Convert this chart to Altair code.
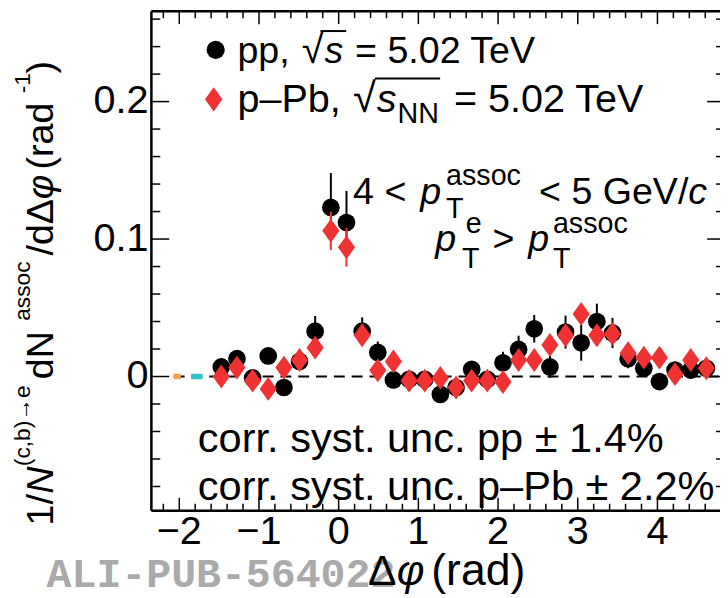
import altair as alt
import pandas as pd

# ---------------- data ----------------
dphi = [-1.473, -1.276, -1.080, -0.884, -0.687, -0.491, -0.295, -0.098,
        0.098, 0.295, 0.491, 0.687, 0.884, 1.080, 1.276, 1.473,
        1.669, 1.865, 2.062, 2.258, 2.454, 2.651, 2.847, 3.043,
        3.240, 3.436, 3.632, 3.829, 4.025, 4.221, 4.418, 4.614]

pp_val = [0.007, 0.013, -0.001, 0.015, -0.008, 0.011, 0.033, 0.123,
          0.112, 0.033, 0.0175, -0.0025, -0.002, -0.002, -0.013, -0.008,
          0.0053, -0.002, 0.010, 0.0197, 0.0347, 0.007, 0.0323, 0.0245,
          0.040, 0.0317, 0.013, 0.006, -0.0037, 0.0047, 0.0047, 0.006]
pp_err = [0.006, 0.006, 0.006, 0.006, 0.006, 0.006, 0.011, 0.025,
          0.023, 0.010, 0.008, 0.006, 0.006, 0.006, 0.006, 0.006,
          0.006, 0.006, 0.008, 0.010, 0.010, 0.008, 0.012, 0.013,
          0.013, 0.011, 0.007, 0.006, 0.006, 0.006, 0.006, 0.006]

ppb_val = [0.000, 0.0065, -0.003, -0.009, 0.0065, 0.012, 0.021, 0.106,
           0.094, 0.030, 0.0045, 0.011, -0.003, -0.003, -0.001, -0.008,
           -0.003, -0.003, -0.004, 0.012, 0.012, 0.023, 0.030, 0.0455,
           0.030, 0.031, 0.017, 0.0137, 0.0137, 0.0017, 0.012, 0.006]
ppb_err = [0.005, 0.005, 0.005, 0.005, 0.005, 0.005, 0.005, 0.014,
           0.014, 0.006, 0.005, 0.005, 0.005, 0.005, 0.005, 0.005,
           0.005, 0.005, 0.005, 0.005, 0.005, 0.005, 0.006, 0.007,
           0.006, 0.005, 0.005, 0.005, 0.005, 0.005, 0.005, 0.005]

x_major = [-2, -1, 0, 1, 2, 3, 4]
x_labels = ["\u22122", "\u22121", "0", "1", "2", "3", "4"]
x_minor = [-2.2, -1.8, -1.6, -1.4, -1.2, -0.8, -0.6, -0.4, -0.2, 0.2, 0.4, 0.6,
           0.8, 1.2, 1.4, 1.6, 1.8, 2.2, 2.4, 2.6, 2.8, 3.2, 3.4, 3.6, 3.8,
           4.2, 4.4, 4.6]
y_major = [0, 0.1, 0.2]
y_labels = ["0", "0.1", "0.2"]
y_minor = [-0.08, -0.06, -0.04, -0.02, 0.02, 0.04, 0.06, 0.08, 0.12, 0.14,
           0.16, 0.18, 0.22, 0.24, 0.26]

syst_pp_x = [-2.07, -1.98]
syst_ppb_x = [-1.85, -1.71]
syst_half = 0.002
zero_line_start = -2.07

X_DOMAIN = [-2.35, 4.785]
Y_DOMAIN = [-0.0976, 0.2657]
W, H = 575, 505
FONT = "Liberation Sans"
RED = "#f03232"

xs = alt.Scale(domain=X_DOMAIN, nice=False, zero=False)
ys = alt.Scale(domain=Y_DOMAIN, nice=False, zero=False)

pp = pd.DataFrame({"x": dphi, "y": pp_val,
                   "lo": [v - e for v, e in zip(pp_val, pp_err)],
                   "hi": [v + e for v, e in zip(pp_val, pp_err)]})
ppb = pd.DataFrame({"x": dphi, "y": ppb_val,
                    "lo": [v - e for v, e in zip(ppb_val, ppb_err)],
                    "hi": [v + e for v, e in zip(ppb_val, ppb_err)]})

DIAMOND = "M0,-1L0.72,0L0,1L-0.72,0Z"
one = pd.DataFrame({"a": [0]})

NOAX = dict(labels=False, ticks=False, domain=False, grid=False)

layers = []

# invisible axes (the visible ticks and labels are drawn below)
layers.append(alt.Chart(pp).mark_point(opacity=0).encode(
    x=alt.X("x:Q", scale=xs, title=None, axis=alt.Axis(**NOAX)),
    y=alt.Y("y:Q", scale=ys, title=None, axis=alt.Axis(**NOAX))))

# tick labels drawn as text through the scales
layers.append(alt.Chart(pd.DataFrame({"t": x_major, "lab": x_labels})).mark_text(
    font=FONT, fontSize=40, align="center", baseline="alphabetic", color="black").encode(
    x=alt.X("t:Q", scale=xs, axis=None), y=alt.value(H + 34), text="lab:N"))
layers.append(alt.Chart(pd.DataFrame({"t": y_major, "lab": y_labels})).mark_text(
    font=FONT, fontSize=40, align="right", baseline="middle", color="black").encode(
    y=alt.Y("t:Q", scale=ys, axis=None), x=alt.value(-3), text="lab:N"))

# ticks (inward, ROOT style)
def xticks(vals, length):
    d = pd.DataFrame({"t": vals})
    bot = alt.Chart(d).mark_rule(color="black", strokeWidth=1.5).encode(
        x=alt.X("t:Q", scale=xs, axis=None), y=alt.value(H), y2=alt.value(H - length))
    top = alt.Chart(d).mark_rule(color="black", strokeWidth=1.5).encode(
        x=alt.X("t:Q", scale=xs, axis=None), y=alt.value(0), y2=alt.value(length))
    return [bot, top]

def yticks(vals, llen, rlen):
    d = pd.DataFrame({"t": vals})
    left = alt.Chart(d).mark_rule(color="black", strokeWidth=1.5).encode(
        y=alt.Y("t:Q", scale=ys, axis=None), x=alt.value(0), x2=alt.value(llen))
    right = alt.Chart(d).mark_rule(color="black", strokeWidth=1.5).encode(
        y=alt.Y("t:Q", scale=ys, axis=None), x=alt.value(W - rlen), x2=alt.value(W))
    return [left, right]

layers += xticks(x_major, 13) + xticks(x_minor, 7)
layers += yticks(y_major, 18, 13) + yticks(y_minor, 9, 4)

# frame (left, top, bottom; the right side lies outside the picture)
for enc in [dict(x=alt.value(0), y=alt.value(0), y2=alt.value(H)),
            dict(x=alt.value(0), x2=alt.value(W), y=alt.value(0)),
            dict(x=alt.value(0), x2=alt.value(W), y=alt.value(H))]:
    layers.append(alt.Chart(one).mark_rule(color="black", strokeWidth=2.5).encode(**enc))

# zero dashed line
layers.append(alt.Chart(one).mark_rule(color="black", strokeWidth=2, strokeDash=[11, 7]).encode(
    x=alt.datum(zero_line_start, scale=xs), x2=alt.value(W), y=alt.datum(0, scale=ys)))

# correlated systematic boxes
for xx, col in [(syst_pp_x, "#f5a04a"), (syst_ppb_x, "#2ec4c8")]:
    d = pd.DataFrame({"x0": [xx[0]], "x1": [xx[1]], "y0": [-syst_half], "y1": [syst_half]})
    layers.append(alt.Chart(d).mark_rect(color=col).encode(
        x=alt.X("x0:Q", scale=xs, axis=None), x2="x1:Q",
        y=alt.Y("y0:Q", scale=ys, axis=None), y2="y1:Q"))

# pp
layers.append(alt.Chart(pp).mark_rule(color="black", strokeWidth=2).encode(
    x=alt.X("x:Q", scale=xs, axis=None), y=alt.Y("lo:Q", scale=ys, axis=None), y2="hi:Q"))
layers.append(alt.Chart(pp).mark_point(shape="circle", filled=True, size=320, color="black", opacity=1).encode(
    x=alt.X("x:Q", scale=xs, axis=None), y=alt.Y("y:Q", scale=ys, axis=None)))
# p-Pb
layers.append(alt.Chart(ppb).mark_rule(color=RED, strokeWidth=2).encode(
    x=alt.X("x:Q", scale=xs, axis=None), y=alt.Y("lo:Q", scale=ys, axis=None), y2="hi:Q"))
layers.append(alt.Chart(ppb).mark_point(shape=DIAMOND, filled=True, size=580, color=RED, opacity=1).encode(
    x=alt.X("x:Q", scale=xs, axis=None), y=alt.Y("y:Q", scale=ys, axis=None)))

# legend markers
layers.append(alt.Chart(one).mark_point(shape="circle", filled=True, size=340, color="black", opacity=1).encode(
    x=alt.value(65), y=alt.value(39)))
layers.append(alt.Chart(one).mark_point(shape=DIAMOND, filled=True, size=600, color=RED, opacity=1).encode(
    x=alt.value(63), y=alt.value(89)))

def txt(s, x, y, size=38, italic=False, color="black", angle=0, font=FONT,
        weight="normal", align="left"):
    kw = dict(text=s, align=align, baseline="alphabetic", fontSize=size, font=font,
              color=color, fontWeight=weight)
    if italic:
        kw["fontStyle"] = "italic"
    if angle:
        kw["angle"] = angle
    return alt.Chart(one).mark_text(**kw).encode(x=alt.value(x), y=alt.value(y))

def hline(x0, x1, y, w=2):
    return alt.Chart(one).mark_rule(color="black", strokeWidth=w).encode(
        x=alt.value(x0), x2=alt.value(x1), y=alt.value(y))

S = 38
SS = 29
# legend text
layers += [
    txt("pp,", 87, 52, S), txt("\u221a", 152, 52, 40), txt("s", 175, 52, S, italic=True),
    hline(171, 197, 20), txt("= 5.02 TeV", 206, 52, S),
    txt("p\u2013Pb,", 87, 102, 40), txt("\u221a", 204, 102, 42),
    txt("s", 228, 102, 40, italic=True), hline(226, 292, 68),
    txt("NN", 249, 113, SS), txt("= 5.02 TeV", 306, 102, 40),
]
# kinematic text
layers += [
    txt("4 <", 204, 195, S), txt("p", 272, 195, S, italic=True),
    txt("assoc", 298, 176, SS), txt("T", 298, 209, SS),
    txt("< 5 GeV/", 392, 195, S), txt("c", 543, 195, S, italic=True),
    txt("p", 287, 242, S, italic=True), txt("e", 318, 224, SS), txt("T", 314, 260, SS),
    txt(">", 345, 242, S), txt("p", 381, 242, S, italic=True),
    txt("assoc", 406, 224, SS), txt("T", 406, 260, SS),
]
# correlated syst. text
layers += [
    txt("corr. syst. unc. pp \u00b1 1.4%", 47, 446, 42),
    txt("corr. syst. unc. p\u2013Pb \u00b1 2.2%", 47, 494, 42),
]
# axis titles and watermark
layers += [
    txt("ALI-PUB-564022", -106, 582, 42, color="#aaaaaa", font="Liberation Mono", weight="bold"),
    txt("\u0394", 219, 580, 43), txt("\u03c6", 248, 580, 43, italic=True), txt("(rad)", 283, 580, 45),
]
# y title (rotated)
YT = -99
YS = -123
layers += [
    txt("1/", YT, 520, 38, angle=270), txt("N", YT, 488, 38, italic=True, angle=270),
    txt("(c,b)\u2192e", YS, 460, 23, angle=270),
    txt("dN", YT, 372, 38, angle=270),
    txt("assoc", YS, 313, 23, angle=270),
    txt("/d\u0394", YT, 247, 38, angle=270), txt("\u03c6", YT, 190, 38, italic=True, angle=270),
    txt("(rad", YT, 160, 38, angle=270), txt("-1", YS, 83, 23, angle=270),
    txt(")", YT, 63, 38, angle=270),
]

chart = alt.layer(*layers).properties(
    width=W, height=H,
    autosize=alt.AutoSizeParams(type="none"),
    padding={"left": 145, "top": 0, "right": 0, "bottom": 85},
).configure_view(stroke=None).configure(background="white")

chart.save("out.html", embed_options={"renderer": "svg", "actions": False})
